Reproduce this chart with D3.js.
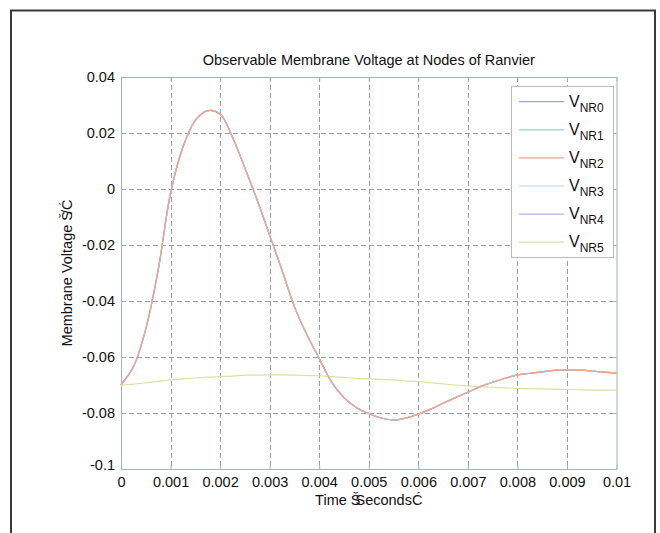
<!DOCTYPE html>
<html>
  <head>
    <title>Observable Membrane Voltage</title>
    <script src="https://cdn.jsdelivr.net/npm/d3@7"></script>
    <style>
      body {
        margin: 0;
        background: white;
      }
      svg {
        display: block;
        font-family: "Liberation Sans", Arial, Helvetica, sans-serif;
      }
    </style>
  </head>
  <body>
    <script>
    // time samples (s), every 0.25 ms
    var times = [0, 0.00025, 0.0005, 0.00075, 0.001, 0.00125, 0.0015, 0.00175, 0.002, 0.00225,
      0.0025, 0.00275, 0.003, 0.00325, 0.0035, 0.00375, 0.004, 0.00425, 0.0045, 0.00475,
      0.005, 0.00525, 0.0055, 0.00575, 0.006, 0.00625, 0.0065, 0.00675, 0.007, 0.00725,
      0.0075, 0.00775, 0.008, 0.00825, 0.0085, 0.00875, 0.009, 0.00925, 0.0095, 0.00975, 0.01];

    // spike seen at nodes 0-4 (they lie on top of each other)
    var vSpike = [-0.070, -0.0635, -0.050, -0.029, -0.0015, 0.015, 0.0245, 0.028, 0.0268, 0.0185,
      0.0075, -0.004, -0.0165, -0.029, -0.042, -0.052, -0.0605, -0.069, -0.0745, -0.078,
      -0.0802, -0.0818, -0.0825, -0.0818, -0.0804, -0.0786, -0.0765, -0.0745, -0.0726, -0.0706,
      -0.069, -0.0676, -0.0664, -0.0658, -0.0653, -0.0648, -0.0646, -0.0647, -0.065, -0.0654, -0.0657];

    // node 5 stays near rest
    var vRest = [-0.070, -0.0697, -0.0692, -0.0687, -0.0682, -0.0678, -0.0675, -0.0672, -0.0670, -0.0668,
      -0.0665, -0.0665, -0.0664, -0.0664, -0.0665, -0.0666, -0.0667, -0.0670, -0.0673, -0.0676,
      -0.0678, -0.0680, -0.0682, -0.0685, -0.0688, -0.0692, -0.0696, -0.0700, -0.0703, -0.0706,
      -0.0708, -0.0710, -0.0712, -0.0713, -0.0714, -0.0715, -0.0716, -0.0717, -0.0718, -0.0718, -0.0718];

    var seriesNames = ["NR0", "NR1", "NR2", "NR3", "NR4", "NR5"];
    var seriesValues = [vSpike, vSpike, vSpike, vSpike, vSpike, vRest];
    var seriesColors = ["#9aa6dc", "#8fd6cc", "#f3a586", "#a9dcea", "#c2a9e6", "#d8e2a2"];

    var xTicks = [0, 0.001, 0.002, 0.003, 0.004, 0.005, 0.006, 0.007, 0.008, 0.009, 0.01];
    var yTicks = [0.04, 0.02, 0, -0.02, -0.04, -0.06, -0.08, -0.1];

    var W = 660, H = 533;
    var pLeft = 121, pRight = 616.5, pTop = 77, pBottom = 469;
    var fontSize = "14.5px";

    var svg = d3.select("body").append("svg")
      .attr("width", W)
      .attr("height", H);

    // outer frame of the figure
    svg.append("rect")
      .attr("x", 11).attr("y", 10.5)
      .attr("width", 644).attr("height", 600)
      .attr("fill", "white")
      .attr("stroke", "#3a3a3a")
      .attr("stroke-width", 2);

    var x = d3.scaleLinear().domain([0, 0.01]).range([pLeft, pRight]);
    var y = d3.scaleLinear().domain([-0.1, 0.04]).range([pBottom, pTop]);

    // plain hyphen minus, like the original
    var fmt = function (d) { return String(+d.toFixed(4)); };

    // grid
    var grid = svg.append("g")
      .attr("stroke", "#94a0ae")
      .attr("stroke-dasharray", "5,3")
      .attr("stroke-width", 1);
    grid.selectAll(".gx").data(xTicks.slice(1, -1)).enter().append("line")
      .attr("x1", function (d) { return Math.round(x(d)) + 0.5; })
      .attr("x2", function (d) { return Math.round(x(d)) + 0.5; })
      .attr("y1", pTop).attr("y2", pBottom);
    grid.selectAll(".gy").data(yTicks.slice(1, -1)).enter().append("line")
      .attr("y1", function (d) { return Math.round(y(d)) + 0.5; })
      .attr("y2", function (d) { return Math.round(y(d)) + 0.5; })
      .attr("x1", pLeft).attr("x2", pRight);

    // axes
    var xAxis = svg.append("g")
      .attr("transform", "translate(0," + pBottom + ")")
      .call(d3.axisBottom(x).tickValues(xTicks).tickFormat(fmt).tickSizeInner(-4).tickSizeOuter(0).tickPadding(8));
    var yAxis = svg.append("g")
      .attr("transform", "translate(" + pLeft + ",0)")
      .call(d3.axisLeft(y).tickValues(yTicks).tickFormat(fmt).tickSizeInner(-4).tickSizeOuter(0).tickPadding(6));
    svg.append("g")
      .attr("transform", "translate(0," + pTop + ")")
      .call(d3.axisTop(x).tickValues(xTicks).tickFormat("").tickSizeInner(-4).tickSizeOuter(0));
    svg.append("g")
      .attr("transform", "translate(" + pRight + ",0)")
      .call(d3.axisRight(y).tickValues(yTicks).tickFormat("").tickSizeInner(-4).tickSizeOuter(0));

    svg.selectAll(".domain, .tick line").attr("stroke", "#9fb2c6");
    svg.selectAll(".tick text")
      .attr("fill", "#111")
      .style("font-size", fontSize)
      .style("font-family", "'Liberation Sans', Arial, sans-serif");
    yAxis.selectAll(".tick text").attr("dy", "0.32em");
    yAxis.selectAll(".tick").filter(function (d) { return d === -0.1; })
      .select("text").attr("dy", "0");

    // lines
    var line = d3.line()
      .curve(d3.curveCatmullRom)
      .x(function (d) { return x(d[0]); })
      .y(function (d) { return y(d[1]); });

    var drawOrder = [0, 1, 3, 4, 5, 2];
    drawOrder.forEach(function (k) {
      var pts = times.map(function (t, i) { return [t, seriesValues[k][i]]; });
      svg.append("path")
        .datum(pts)
        .attr("d", line)
        .attr("fill", "none")
        .attr("stroke", seriesColors[k])
        .attr("stroke-width", 1.2);
    });

    // title and labels
    svg.append("text")
      .attr("x", (pLeft + pRight) / 2).attr("y", 65)
      .attr("text-anchor", "middle")
      .style("font-size", fontSize)
      .attr("fill", "#111")
      .text("Observable Membrane Voltage at Nodes of Ranvier");

    var xl = svg.append("text")
      .attr("x", (pLeft + pRight) / 2).attr("y", 505)
      .attr("text-anchor", "middle")
      .style("font-size", fontSize)
      .attr("fill", "#111");
    xl.append("tspan").text("Time Š");
    xl.append("tspan").attr("dx", -5).text("SecondsĆ");

    var yl = svg.append("text")
      .attr("transform", "translate(72," + ((pTop + pBottom) / 2) + ") rotate(-90)")
      .attr("text-anchor", "middle")
      .style("font-size", fontSize)
      .attr("fill", "#111");
    yl.append("tspan").text("Membrane Voltage Š");
    yl.append("tspan").attr("dx", -3).text("/Ć");

    // legend
    var leg = svg.append("g");
    leg.append("rect")
      .attr("x", 511.5).attr("y", 86.5)
      .attr("width", 102).attr("height", 171)
      .attr("fill", "white")
      .attr("stroke", "#b4bcc6");
    seriesNames.forEach(function (n, i) {
      var ly = 101.7 + i * 28.1;
      leg.append("line")
        .attr("x1", 519).attr("x2", 564)
        .attr("y1", ly).attr("y2", ly)
        .attr("stroke", seriesColors[i])
        .attr("stroke-width", 1.2);
      var t = leg.append("text")
        .attr("x", 569).attr("y", ly + 5)
        .attr("fill", "#111")
        .style("font-size", "16px");
      t.append("tspan").text("V");
      t.append("tspan").attr("dy", 5).style("font-size", "12px").text(n);
    });
    </script>
  </body>
</html>
